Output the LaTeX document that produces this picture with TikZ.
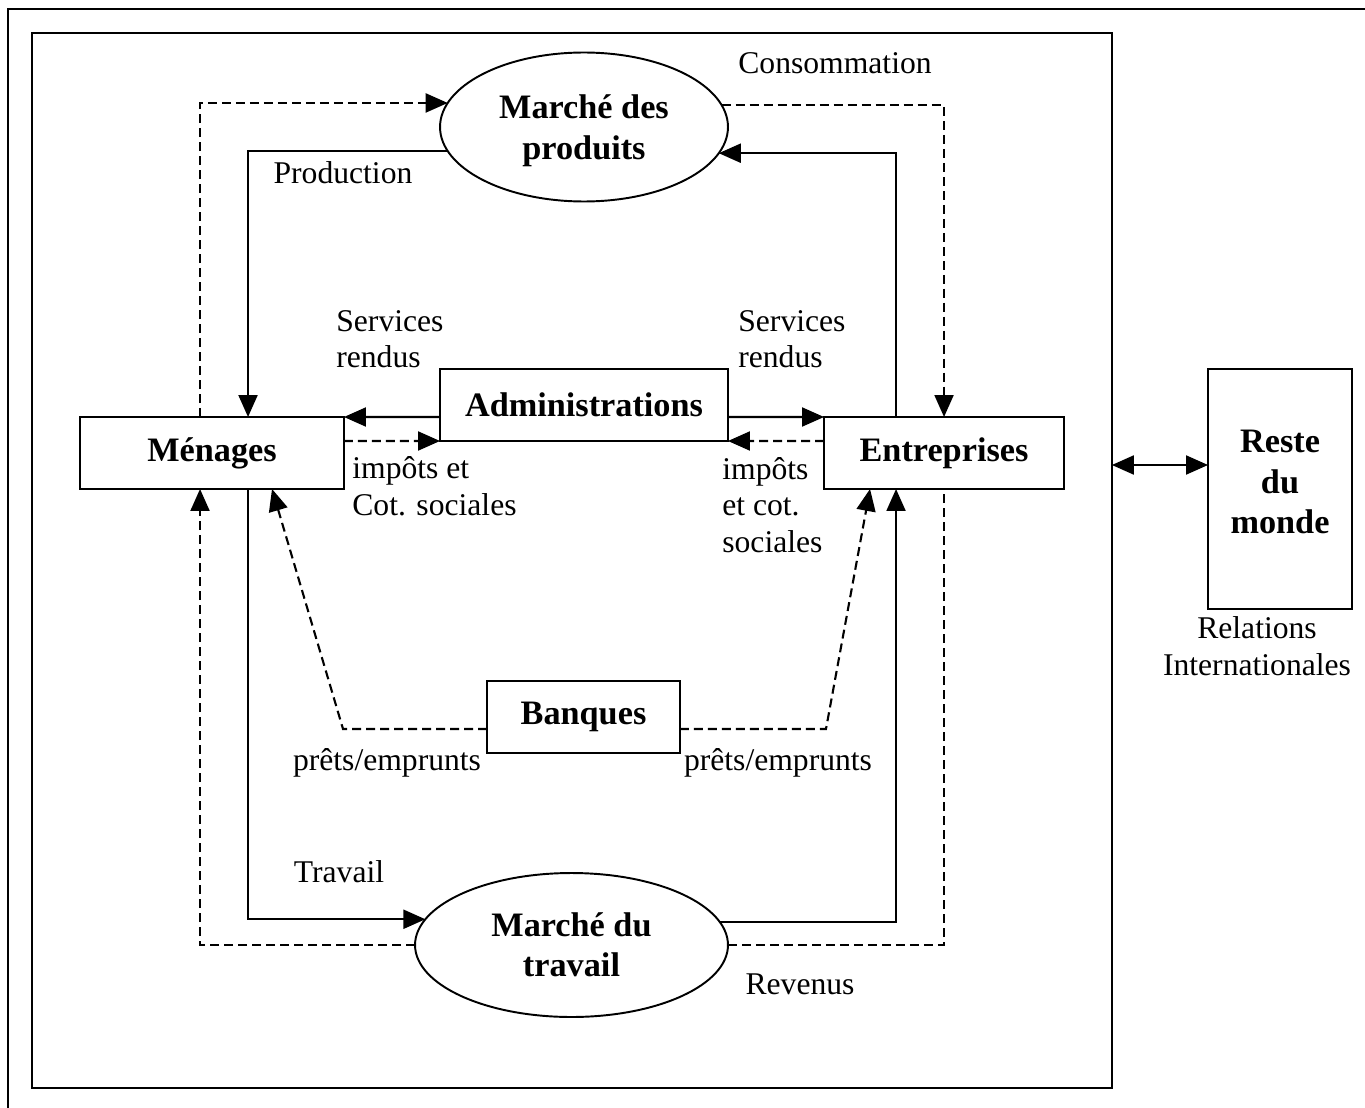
\documentclass[tikz,border=0pt]{standalone}
\usepackage{fontspec}
\setmainfont{Liberation Serif}
\usetikzlibrary{arrows.meta, positioning, calc, shapes.geometric}
\colorlet{Ctrait}{black}
\tikzset{
  agent/.style={draw=Ctrait, line width=1.1pt, inner sep=0pt, outer sep=0pt,
    align=center, font=\bfseries\fontsize{19.5}{23}\selectfont},
  marche/.style={agent, ellipse},
  lbl/.style={inner sep=0pt, align=left, font=\fontsize{18}{20.8}\selectfont},
  fil/.style={line width=1.2pt, Ctrait},
  reel/.style={fil, -{Triangle[length=0.44cm, width=0.38cm]}},
  monetfil/.style={fil, dash pattern=on 0.18cm off 0.1cm},
  monet/.style={monetfil, -{Triangle[length=0.44cm, width=0.38cm]}},
  echange/.style={fil, {Triangle[length=0.44cm, width=0.38cm]}-{Triangle[length=0.44cm, width=0.38cm]}},
}

\begin{document}
\begin{tikzpicture}[x=0.02cm, y=-0.02cm]
\useasboundingbox (0,0) rectangle (1365,1108);

%%==========================================================================
%% FRAMES
%%==========================================================================
\draw[line width=1.3pt] (8,1108) -- (8,9) -- (1365,9);
\node[draw, line width=1.3pt, inner sep=0pt, outer sep=0pt,
  minimum width=21.6cm, minimum height=21.1cm] (cadre) at (572,560.5) {};

%%==========================================================================
%% AGENTS AND MARKETS
%%==========================================================================
\node[marche, minimum width=5.76cm, minimum height=2.98cm, text depth=0pt] (prod) at (584,127) {Marché des\\produits};
\node[marche, minimum width=6.26cm, minimum height=2.88cm] (trav) at (571.5,945) {Marché du\\travail};
\node[agent, minimum width=5.28cm, minimum height=1.44cm] (men) at (212,453) {Ménages};
\node[agent, minimum width=5.76cm, minimum height=1.44cm] (adm) at (584,405) {Administrations};
\node[agent, minimum width=4.8cm, minimum height=1.44cm] (ent) at (944,453) {Entreprises};
\node[agent, minimum width=3.86cm, minimum height=1.44cm] (ban) at (583.5,717) {Banques};
\node[agent, minimum width=2.88cm, minimum height=4.8cm, text depth=0.28cm] (monde) at (1280,489) {Reste\\du\\monde};

%% labels
\node[lbl] (lcons) at (835,63) {Consommation};
\node[lbl] (lprod) at (343,173) {Production};
\node[lbl, anchor=west] (lsrv1) at (336,339) {Services\\rendus};
\node[lbl, anchor=west] (lsrv2) at (738,339) {Services\\rendus};
\node[lbl, anchor=west] (limp1) at (352,486) {impôts et\\Cot. sociales};
\node[lbl, anchor=west] (limp2) at (722,505) {impôts\\et cot.\\sociales};
\node[lbl] (lpre1) at (387,763) {prêts/emprunts};
\node[lbl] (lpre2) at (778,763) {prêts/emprunts};
\node[lbl] (ltrav) at (339,872) {Travail};
\node[lbl] (lrev) at (800,984) {Revenus};
\node[lbl, align=center] (lrel) at (1257,646) {Relations\\Internationales};

%%==========================================================================
%% FLOWS (solid = real, dashed = monetary)
%%==========================================================================
%% product market
\draw[monet] ($(men.north west)+(120,0)$) |- (prod.170.9);
\draw[reel] (prod.190.9) -| ($(men.north west)+(168,0)$);
\draw[monet] (prod.9.1) -| ($(ent.north west)+(120,0)$);
\draw[reel] ($(ent.north west)+(72,0)$) |- (prod.349.1);

%% administrations
\draw[reel] ($(adm.south west)+(0,-24)$) -- (men.north east);
\draw[monet] ($(men.north east)+(0,24)$) -- (adm.south west);
\draw[reel] ($(adm.south east)+(0,-24)$) -- (ent.north west);
\draw[monet] ($(ent.north west)+(0,24)$) -- (adm.south east);

%% banks
\draw[monet] ($(ban.south west)+(0,-24)$) -- ++(-144,0) -- ($(men.south west)+(192,0)$);
\draw[monet] ($(ban.south east)+(0,-24)$) -- ++(146,0) -- ($(ent.south west)+(46,0)$);

%% labour market
\draw[reel] ($(men.south west)+(168,0)$) |- (trav.170.8);
\draw[reel] (trav.9.2) -| ($(ent.south west)+(72,0)$);
\draw[monet] (trav.west) -| ($(men.south west)+(120,0)$);
\draw[monetfil] (trav.east) -| ($(ent.south west)+(120,0)$);

%% rest of the world
\coordinate (rdm) at ($(monde.west)+(0,-24)$);
\draw[echange] (cadre.east |- rdm) -- (rdm);

\end{tikzpicture}
\end{document}
